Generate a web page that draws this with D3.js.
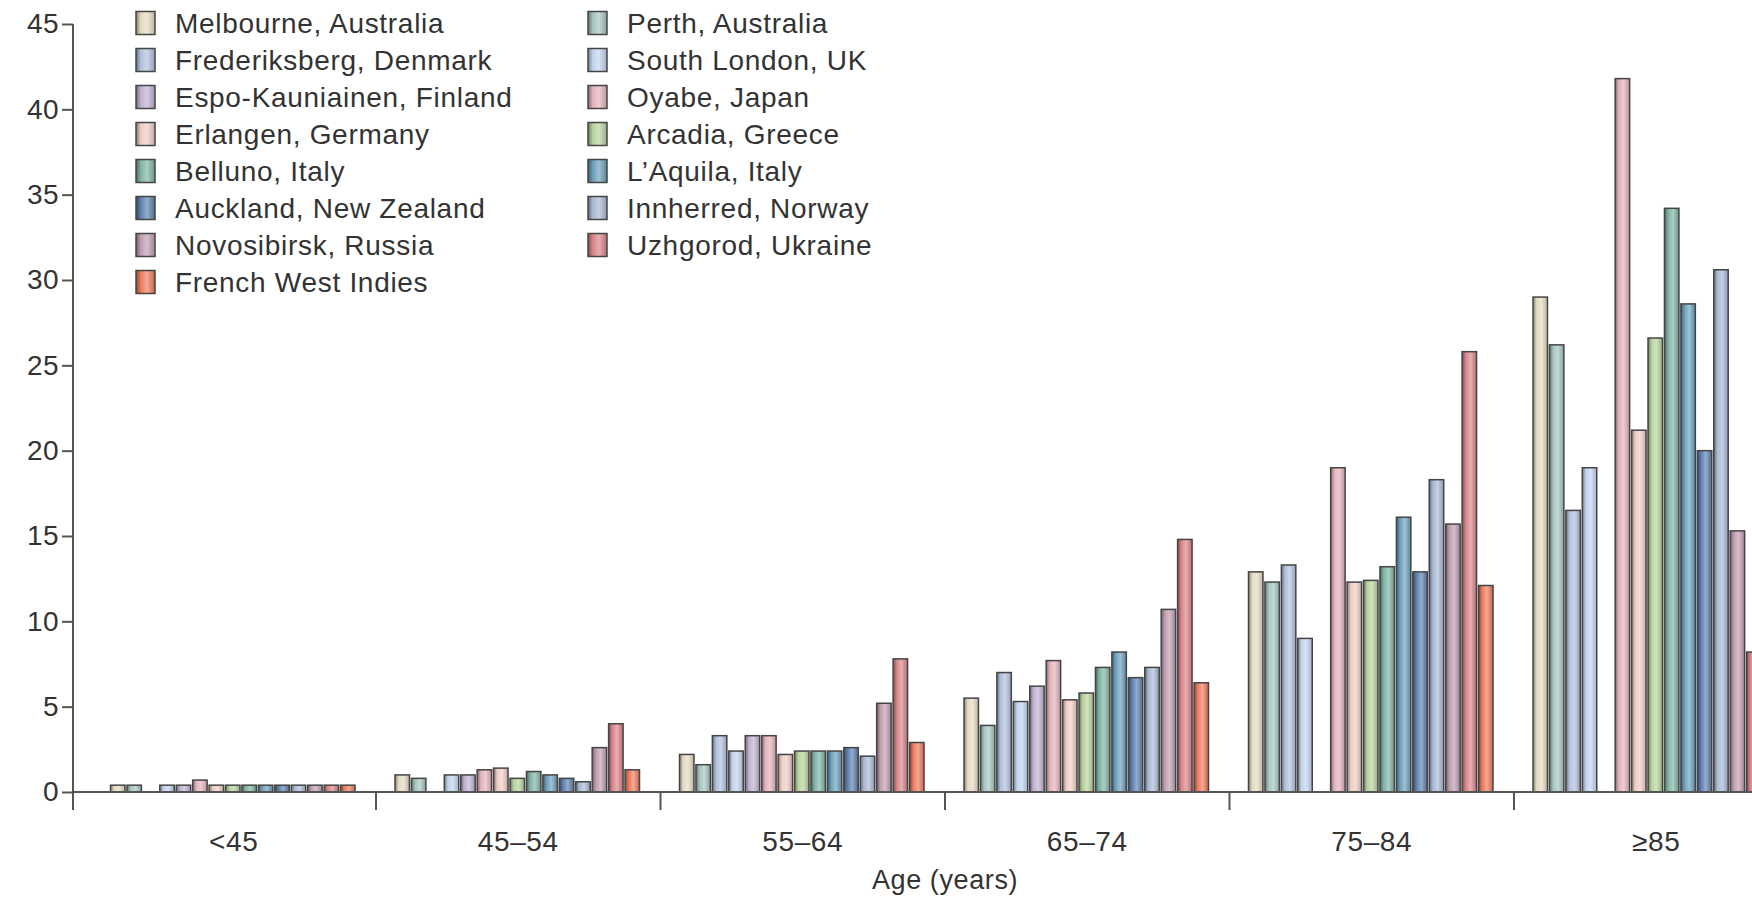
<!DOCTYPE html>
<html>
<head>
<meta charset="utf-8">
<script src="https://cdn.jsdelivr.net/npm/d3@7"></script>
<style>
  body { margin: 0; background: #fff; }
  svg { display: block; font-family: "Liberation Sans", Arial, sans-serif; }
  text { fill: #333; }
</style>
</head>
<body>
<svg width="1752" height="899"></svg>
<script>
'use strict';

// Data (incidence per 1000 person-years by age group).
var ageGroups = ["<45", "45\u201354", "55\u201364", "65\u201374", "75\u201384", "\u226585"];
var sites = [
    "Melbourne, Australia", "Perth, Australia",
    "Frederiksberg, Denmark", "South London, UK",
    "Espo-Kauniainen, Finland", "Oyabe, Japan",
    "Erlangen, Germany", "Arcadia, Greece",
    "Belluno, Italy", "L\u2019Aquila, Italy",
    "Auckland, New Zealand", "Innherred, Norway",
    "Novosibirsk, Russia", "Uzhgorod, Ukraine",
    "French West Indies"
];
var siteColors = [
    "#e4dac0", "#a4c4c0",
    "#b0bfdb", "#c2d3ee",
    "#c0b0d0", "#e2b2ba",
    "#eeccc4", "#b6d29c",
    "#7fb3a5", "#6c9fbb",
    "#5e7fae", "#a9b8d4",
    "#bf9db0", "#d88489",
    "#ec7a5c"
];
// one array per age group, in the same order as `sites` (null = no bar)
var ratesUnder45 = [0.4, 0.4, null, 0.4, 0.4, 0.7, 0.4, 0.4, 0.4, 0.4, 0.4, 0.4, 0.4, 0.4, 0.4];
var rates45to54  = [1.0, 0.8, null, 1.0, 1.0, 1.3, 1.4, 0.8, 1.2, 1.0, 0.8, 0.6, 2.6, 4.0, 1.3];
var rates55to64  = [2.2, 1.6, 3.3, 2.4, 3.3, 3.3, 2.2, 2.4, 2.4, 2.4, 2.6, 2.1, 5.2, 7.8, 2.9];
var rates65to74  = [5.5, 3.9, 7.0, 5.3, 6.2, 7.7, 5.4, 5.8, 7.3, 8.2, 6.7, 7.3, 10.7, 14.8, 6.4];
var rates75to84  = [12.9, 12.3, 13.3, 9.0, null, 19.0, 12.3, 12.4, 13.2, 16.1, 12.9, 18.3, 15.7, 25.8, 12.1];
var rates85plus  = [29.0, 26.2, 16.5, 19.0, null, 41.8, 21.2, 26.6, 34.2, 28.6, 20.0, 30.6, 15.3, 8.2, null];
var yTicks = [0, 5, 10, 15, 20, 25, 30, 35, 40, 45];
var xTitle = "Age (years)";

var allRates = [ratesUnder45, rates45to54, rates55to64, rates65to74, rates75to84, rates85plus];

var bars = [];
ageGroups.forEach(function(g, gi){
    allRates[gi].forEach(function(v, si){
        if (v != null) bars.push({group: g, site: sites[si], idx: si, value: v});
    });
});

let svg = d3.select("svg"),
    width = +svg.attr("width"),
    height = +svg.attr("height");

var axisX = 73, baseY = 792, tickBottom = 810;

var x0 = d3.scaleBand()
    .domain(ageGroups)
    .range([91.5, 91.5 + 6 * 284.5]);
var x1 = d3.scaleBand()
    .domain(sites)
    .range([19, 19 + 244.5])
    .paddingInner(0.12);
var y = d3.scaleLinear()
    .domain([0, 45])
    .range([baseY, 24]);

// shaded fill for each site colour: dark left edge, light middle
var defs = svg.append("defs");
siteColors.forEach(function(c, i){
    var base = d3.color(c);
    var light = d3.interpolateRgb(c, "#ffffff")(0.35);
    var grad = defs.append("linearGradient")
        .attr("id", "grad" + i)
        .attr("x1", "0%").attr("x2", "100%")
        .attr("y1", "0%").attr("y2", "0%");
    grad.append("stop").attr("offset", "0%").attr("stop-color", base.darker(1.5));
    grad.append("stop").attr("offset", "25%").attr("stop-color", base);
    grad.append("stop").attr("offset", "58%").attr("stop-color", light);
    grad.append("stop").attr("offset", "100%").attr("stop-color", base.darker(0.5));
});

// bars
svg.append("g")
    .selectAll("rect")
    .data(bars)
    .enter()
    .append("rect")
    .attr("x", function(d){ return x0(d.group) + x1(d.site); })
    .attr("y", function(d){ return y(d.value); })
    .attr("width", x1.bandwidth())
    .attr("height", function(d){ return y(0) - y(d.value); })
    .attr("fill", function(d){ return "url(#grad" + d.idx + ")"; })
    .attr("stroke", "#454545")
    .attr("stroke-width", 1.5);

// y axis
var yAxis = svg.append("g")
    .attr("transform", "translate(" + axisX + ",0)")
    .call(d3.axisLeft(y).tickValues(yTicks).tickSize(11).tickPadding(3));
yAxis.select(".domain").remove();
yAxis.selectAll("line").attr("stroke", "#555").attr("stroke-width", 2);
yAxis.selectAll("text")
    .attr("font-size", 28)
    .attr("letter-spacing", 0.4)
    .attr("fill", "#333")
    .attr("font-family", "Liberation Sans, Arial, sans-serif");
svg.append("line")
    .attr("x1", axisX).attr("x2", axisX)
    .attr("y1", y(45)).attr("y2", tickBottom)
    .attr("stroke", "#555").attr("stroke-width", 2);

// x axis: baseline, group separators, labels
svg.append("line")
    .attr("x1", axisX).attr("x2", width)
    .attr("y1", baseY).attr("y2", baseY)
    .attr("stroke", "#555").attr("stroke-width", 2);
svg.append("g")
    .selectAll("line")
    .data(ageGroups.slice(1))
    .enter()
    .append("line")
    .attr("x1", function(d){ return x0(d); })
    .attr("x2", function(d){ return x0(d); })
    .attr("y1", baseY).attr("y2", tickBottom)
    .attr("stroke", "#555").attr("stroke-width", 2);
svg.append("g")
    .selectAll("text")
    .data(ageGroups)
    .enter()
    .append("text")
    .attr("x", function(d){ return x0(d) + x0.bandwidth() / 2; })
    .attr("y", 851)
    .attr("text-anchor", "middle")
    .attr("font-size", 28)
    .attr("letter-spacing", 0.6)
    .text(function(d){ return d; });
svg.append("text")
    .attr("x", (x0.range()[0] + x0.range()[1]) / 2)
    .attr("y", 889)
    .attr("text-anchor", "middle")
    .attr("font-size", 27)
    .attr("letter-spacing", 0.6)
    .text(xTitle);

// legend, two columns filled row by row
var legend = svg.append("g")
    .selectAll("g")
    .data(sites)
    .enter()
    .append("g")
    .attr("transform", function(d, i){
        var col = i % 2, row = Math.floor(i / 2);
        return "translate(" + (136 + col * 452) + "," + (23 + row * 37) + ")";
    });
legend.append("rect")
    .attr("x", 0).attr("y", -11.5)
    .attr("width", 19).attr("height", 23)
    .attr("fill", function(d, i){ return "url(#grad" + i + ")"; })
    .attr("stroke", "#454545")
    .attr("stroke-width", 1.5);
legend.append("text")
    .attr("x", 39)
    .attr("y", 10)
    .attr("font-size", 28)
    .attr("letter-spacing", 0.7)
    .text(function(d){ return d; });
</script>
</body>
</html>
